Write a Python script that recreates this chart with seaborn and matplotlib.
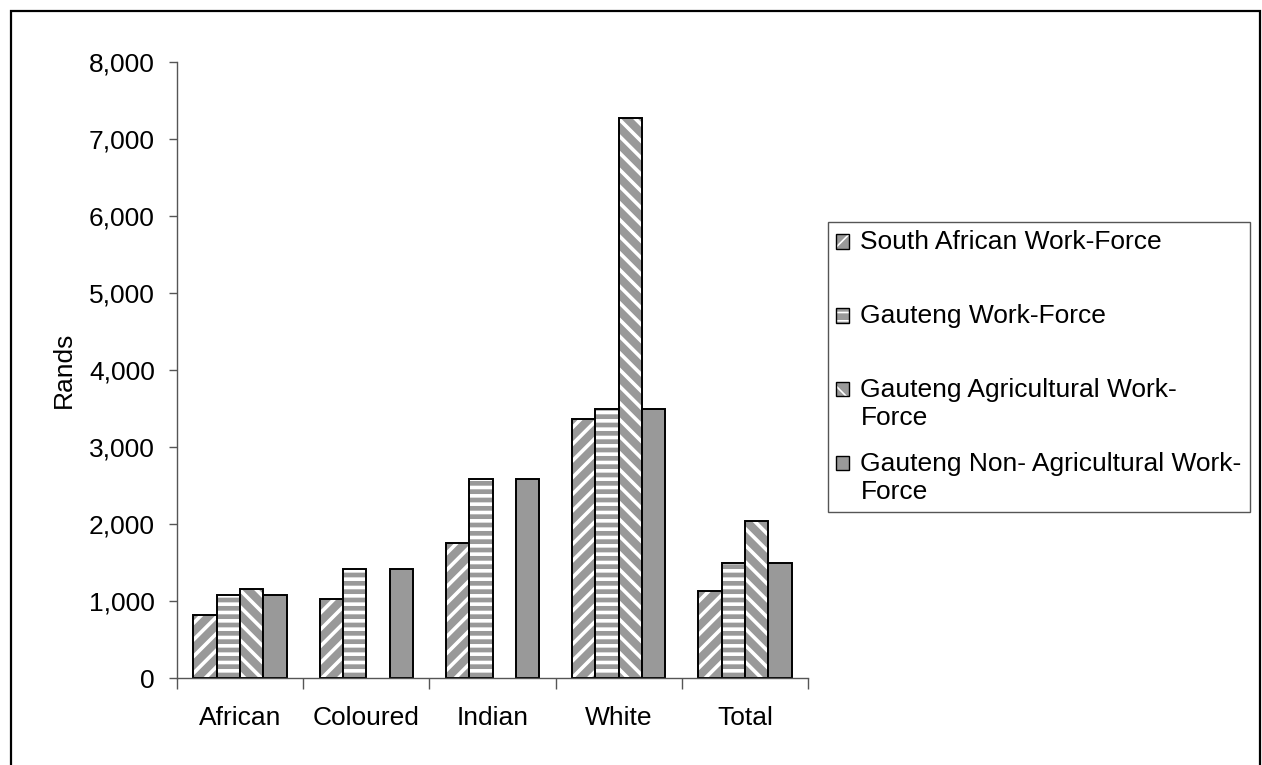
import numpy as np
import pandas as pd
import matplotlib
matplotlib.use("Agg")
import matplotlib.pyplot as plt
import matplotlib.patches as mpatches
from matplotlib.colors import to_rgba
from matplotlib.ticker import FuncFormatter, MultipleLocator
import seaborn as sns

# === data (Rands) ===
categories = ["African", "Coloured", "Indian", "White", "Total"]
series = ["South African Work-Force", "Gauteng Work-Force",
          "Gauteng Agricultural Work-Force", "Gauteng Non- Agricultural Work-Force"]
legend_labels = ["South African Work-Force\n", "Gauteng Work-Force\n",
                 "Gauteng Agricultural Work-\nForce", "Gauteng Non- Agricultural Work-\nForce"]
sa_workforce = [820, 1030, 1750, 3360, 1130]
gauteng_workforce = [1080, 1420, 2590, 3500, 1490]
gauteng_agri = [1160, np.nan, np.nan, 7270, 2040]
gauteng_nonagri = [1080, 1420, 2590, 3500, 1490]

hatches = ["//", "--", "\\\\", ""]
gray = "#999999"
FS = 19

sns.set_style("white")
plt.rcParams["font.family"] = ["Liberation Sans", "DejaVu Sans"]
plt.rcParams["text.color"] = "black"
plt.rcParams["axes.labelcolor"] = "black"
plt.rcParams["xtick.color"] = "black"
plt.rcParams["ytick.color"] = "black"
plt.rcParams["hatch.linewidth"] = 2.6

rows = []
for name, vals in zip(series, [sa_workforce, gauteng_workforce, gauteng_agri, gauteng_nonagri]):
    for cat, v in zip(categories, vals):
        rows.append({"Category": cat, "Series": name, "Rands": v})
df = pd.DataFrame(rows).dropna()

fig = plt.figure(figsize=(12.62, 7.65), dpi=100)
ax = fig.add_axes([177 / 1262, 1 - 678 / 765, (808 - 177) / 1262, (678 - 62) / 765])

sns.barplot(data=df, x="Category", y="Rands", hue="Series", order=categories,
            hue_order=series, palette={s: gray for s in series}, errorbar=None,
            width=0.74, gap=0, edgecolor="black", linewidth=1.4, legend=False, ax=ax)

white = to_rgba("white")
for cont, h in zip(ax.containers, hatches):
    for p in cont.patches:
        if h:
            p.set_hatch(h)
            p._hatch_color = white

ax.set_xlim(-0.5, len(categories) - 0.5)
ax.set_ylim(0, 8000)
ax.yaxis.set_major_locator(MultipleLocator(1000))
ax.yaxis.set_major_formatter(FuncFormatter(lambda v, _: f"{v:,.0f}"))
ax.set_xticks(np.arange(-0.5, len(categories), 1.0), minor=True)
ax.tick_params(axis="x", which="major", length=0, pad=20, labelsize=FS)
ax.tick_params(axis="x", which="minor", length=8, width=1, color="#555555", direction="out", bottom=True)
ax.tick_params(axis="y", length=6, width=1, color="#555555", direction="out", left=True, pad=10, labelsize=FS)
ax.set_xlabel("")
ax.set_ylabel("Rands", fontsize=FS, labelpad=9)

sns.despine(ax=ax)
for s in ["left", "bottom"]:
    ax.spines[s].set_color("#555555")
    ax.spines[s].set_linewidth(1)

# legend
plt.rcParams["hatch.linewidth"] = 1.2
handles = [mpatches.Patch(facecolor=gray, edgecolor="black", linewidth=1, hatch=h) for h in hatches]
leg = fig.legend(handles, legend_labels, loc="upper left", bbox_to_anchor=(828 / 1262, 1 - 222 / 765),
                 bbox_transform=fig.transFigure, borderaxespad=0, fontsize=FS, frameon=True,
                 fancybox=False, framealpha=1, edgecolor="#555555", handlelength=0.48,
                 handleheight=0.48, handletextpad=0.45, labelspacing=0.8, borderpad=0.3)
leg.get_frame().set_linewidth(1)
for t in leg.get_texts():
    t.set_linespacing(1.25)
for p in leg.get_patches():
    p._hatch_color = white
    p.set_y(p.get_y() + 10.8)

# outer border
fig.patches.append(mpatches.Rectangle((11 / 1262, -0.05), (1260 - 11) / 1262, 1.05 - 11 / 765,
                                      transform=fig.transFigure, fill=False,
                                      edgecolor="black", linewidth=1.6))

fig.savefig("out.png", dpi=100)
